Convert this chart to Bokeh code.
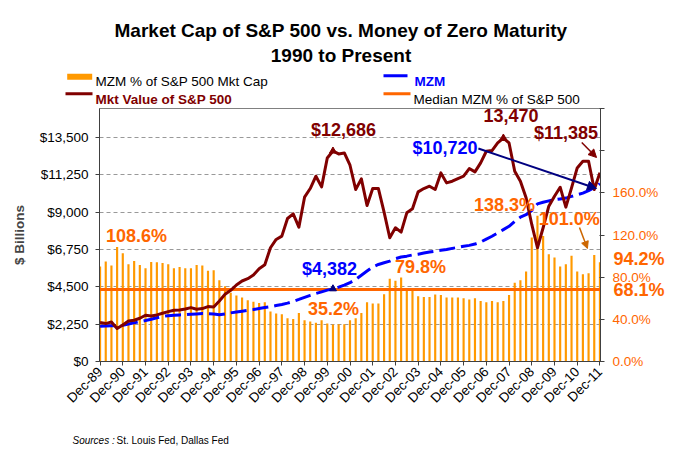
import math
from bokeh.plotting import figure
from bokeh.layouts import column
from bokeh.models import (Range1d, LinearAxis, FixedTicker, NumeralTickFormatter,
                          CustomJSTickFormatter, Label, Arrow, NormalHead)
from bokeh.core.properties import value
from bokeh.embed import file_html
from bokeh.resources import INLINE

FONT = "Liberation Sans"

# ---------------- data (quarterly, Dec-89 .. Dec-11) ----------------
year_labels = ["Dec-89", "Dec-90", "Dec-91", "Dec-92", "Dec-93", "Dec-94", "Dec-95",
               "Dec-96", "Dec-97", "Dec-98", "Dec-99", "Dec-00", "Dec-01", "Dec-02",
               "Dec-03", "Dec-04", "Dec-05", "Dec-06", "Dec-07", "Dec-08", "Dec-09",
               "Dec-10", "Dec-11"]

sp500_value = [2346, 2286, 2386, 1985, 2206, 2446, 2486, 2607, 2787, 2747,
               2807, 2907, 3008, 3088, 3108, 3168, 3248, 3148, 3188, 3308,
               3288, 3649, 4050, 4291, 4612, 4852, 4992, 5213, 5594, 5830,
               6857, 7358, 7559, 8621, 8902, 8100, 9905, 10426, 11168, 10526,
               12271, 12686, 12511, 12571, 11830, 10366, 11007, 9403, 10426, 10426,
               9002, 7459, 8060, 7799, 8962, 9203, 10226, 10426, 10566, 10366,
               11368, 10767, 10867, 11028, 11168, 11629, 11429, 11970, 12672, 12712,
               13173, 13470, 13173, 11469, 10867, 9865, 8261, 6857, 8060, 9363,
               9965, 10506, 9303, 10466, 11669, 12070, 12070, 10366, 11385]

mzm_value = [2130, 2140, 2150, 2160, 2190, 2260, 2330, 2400, 2470, 2550,
             2640, 2720, 2760, 2790, 2810, 2820, 2850, 2870, 2890, 2880,
             2860, 2820, 2860, 2930, 2980, 3030, 3080, 3130, 3190, 3250,
             3300, 3370, 3440, 3520, 3620, 3740, 3870, 3990, 4100, 4200,
             4300, 4382, 4480, 4600, 4750, 4950, 5200, 5450, 5700, 5850,
             5950, 6050, 6200, 6300, 6350, 6420, 6470, 6540, 6600, 6650,
             6700, 6750, 6820, 6880, 6950, 7000, 7080, 7200, 7380, 7550,
             7750, 7950, 8150, 8450, 8700, 8850, 9100, 9500, 9600, 9680,
             9750, 9800, 9850, 9950, 10050, 10150, 10300, 10480, 10720]

mzm_pct = [90.1, 94.8, 91.0, 108.6, 102.7, 92.3, 95.4, 91.6, 88.5, 94.5,
           94.2, 93.5, 92.3, 88.5, 89.7, 88.5, 88.5, 91.6, 91.0, 86.0,
           86.6, 77.1, 71.4, 65.1, 62.6, 60.7, 58.1, 56.6, 55.6, 56.2,
           47.4, 45.5, 44.9, 41.1, 40.4, 46.1, 39.2, 37.9, 36.7, 39.2,
           36.0, 35.2, 35.4, 35.4, 39.2, 41.1, 46.1, 56.2, 55.0, 55.0,
           63.8, 78.4, 76.5, 79.8, 69.5, 69.5, 61.9, 61.3, 61.3, 63.5,
           63.2, 60.7, 60.7, 60.7, 60.0, 58.8, 60.0, 57.5, 56.2, 57.5,
           56.2, 57.5, 63.2, 74.6, 77.1, 85.3, 117.6, 138.3, 119.1, 101.8,
           98.6, 90.1, 92.3, 100.2, 85.3, 82.8, 83.7, 101.0, 94.2]

median_pct = 68.1

idx = list(range(len(sp500_value)))
year_ticks = [4 * k for k in range(len(year_labels))]

DARKRED = "#800000"
BLUE = "#0000FF"
ORANGE_TXT = "#FF6600"
BAR = "#FF9900"
AXIS = "#404040"

W = 681
HDR_H = 106
MAIN_H = 318
FTR_H = 43


def no_align(f):
    if "frame_align" in f.properties():
        f.frame_align = False


# ---------------- header (title + legend) ----------------
hdr = figure(width=W, height=HDR_H, x_range=Range1d(0, W), y_range=Range1d(HDR_H, 0),
             output_backend="svg", toolbar_location=None, min_border=0,
             x_axis_location=None, y_axis_location=None)
hdr.grid.visible = False
hdr.outline_line_color = None
no_align(hdr)

hdr.text(x=[340.5, 340.5], y=[30, 55],
         text=["Market Cap of S&P 500 vs. Money of Zero Maturity", "1990 to Present"],
         text_font=value(FONT), text_font_style="bold", text_font_size="19px",
         text_align="center", text_baseline="alphabetic", text_color="black")

# legend swatches
hdr.quad(left=[66.7], right=[91.7], top=[73.3], bottom=[79.3], fill_color=BAR, line_color=None)
hdr.segment(x0=[65], y0=[93.3], x1=[92], y1=[93.3], line_color=DARKRED, line_width=3)
hdr.segment(x0=[383], y0=[75.3], x1=[407], y1=[75.3], line_color=BLUE, line_width=3)
hdr.segment(x0=[383], y0=[93.3], x1=[410], y1=[93.3], line_color=ORANGE_TXT, line_width=3)

hdr.text(x=[95], y=[80.5], text=["MZM % of S&P 500 Mkt Cap"], text_font=value(FONT),
         text_font_size="13.5px", text_color="black", text_baseline="alphabetic")
hdr.text(x=[95], y=[99], text=["Mkt Value of S&P 500"], text_font=value(FONT),
         text_font_style="bold", text_font_size="13.5px", text_color=DARKRED,
         text_baseline="alphabetic")
hdr.text(x=[414], y=[80.5], text=["MZM"], text_font=value(FONT), text_font_style="bold",
         text_font_size="13.5px", text_color=BLUE, text_baseline="alphabetic")
hdr.text(x=[413], y=[98.7], text=["Median MZM % of S&P 500"], text_font=value(FONT),
         text_font_size="13.5px", text_color="black", text_baseline="alphabetic")

# ---------------- main chart ----------------
p = figure(width=W, height=MAIN_H, x_range=Range1d(-0.1, 88.1), y_range=Range1d(0, 15250),
           output_backend="svg", toolbar_location=None,
           min_border_left=99, min_border_right=81, min_border_top=2, min_border_bottom=63)
no_align(p)
p.extra_y_ranges = {"pct": Range1d(0, 240)}
p.background_fill_color = "white"
p.border_fill_color = "white"
p.outline_line_color = "#808080"

# left axis
yax = p.yaxis[0]
yax.ticker = FixedTicker(ticks=[0, 2250, 4500, 6750, 9000, 11250, 13500])
yax.formatter = NumeralTickFormatter(format="$0,0")
yax.axis_label = "$ Billions"
yax.axis_label_text_font = FONT
yax.axis_label_text_font_style = "bold"
yax.axis_label_text_font_size = "13.5px"
yax.axis_label_standoff = 10
yax.major_label_text_font = FONT
yax.major_label_text_font_size = "13.5px"
yax.major_label_text_color = "black"
yax.major_tick_in = 0
yax.major_tick_out = 4
yax.minor_tick_in = 0
yax.minor_tick_out = 0
yax.major_label_standoff = 7
yax.axis_line_color = AXIS
yax.major_tick_line_color = AXIS

# right axis (percent)
rax = LinearAxis(y_range_name="pct",
                 ticker=FixedTicker(ticks=[0, 40, 80, 120, 160, 200, 240]),
                 formatter=CustomJSTickFormatter(
                     code="return tick <= 160 ? tick.toFixed(1) + '%' : '';"))
rax.major_label_text_font = FONT
rax.major_label_text_font_size = "13.5px"
rax.major_label_text_color = ORANGE_TXT
rax.major_tick_in = 1
rax.major_tick_out = 4
rax.minor_tick_in = 0
rax.minor_tick_out = 0
rax.major_label_standoff = 8
rax.axis_line_color = AXIS
rax.major_tick_line_color = AXIS
p.add_layout(rax, "right")

# call-out labels for the latest and the median percentage, beside the right axis
last = len(idx) - 1
callout_ticks = [median_pct, mzm_pct[last] + 3.5]
cax = LinearAxis(y_range_name="pct", ticker=FixedTicker(ticks=callout_ticks),
                 formatter=CustomJSTickFormatter(
                     args=dict(hi="%.1f%%" % mzm_pct[last], lo="%.1f%%" % median_pct),
                     code="return tick > 80 ? hi : lo;"))
cax.axis_line_color = None
cax.major_tick_line_color = None
cax.minor_tick_line_color = None
cax.major_tick_in = 0
cax.major_tick_out = 0
cax.minor_tick_in = 0
cax.minor_tick_out = 0
cax.major_label_standoff = -48
cax.major_label_text_font = FONT
cax.major_label_text_font_style = "bold"
cax.major_label_text_font_size = "18px"
cax.major_label_text_color = ORANGE_TXT
p.add_layout(cax, "right")

# bottom axis
xax = p.xaxis[0]
xax.ticker = FixedTicker(ticks=year_ticks)
xax.major_label_overrides = dict(zip(year_ticks, year_labels))
xax.major_label_orientation = math.pi / 4
xax.major_label_text_font = FONT
xax.major_label_text_font_size = "13.5px"
xax.major_label_text_color = "black"
xax.major_tick_in = 0
xax.major_tick_out = 4
xax.minor_tick_in = 0
xax.minor_tick_out = 0
xax.major_label_standoff = 4
xax.axis_line_color = AXIS
xax.major_tick_line_color = AXIS

p.xgrid.visible = False
p.ygrid.ticker = FixedTicker(ticks=[2250, 4500, 6750, 9000, 11250, 13500])
p.ygrid.grid_line_color = "#999999"
p.ygrid.grid_line_dash = "4 3"
p.ygrid.grid_line_width = 1

# marks
p.vbar(x=idx, top=mzm_pct, width=0.38, y_range_name="pct", fill_color=BAR, line_color=None)
p.hspan(y=[median_pct], y_range_name="pct", line_color=ORANGE_TXT, line_width=3)
p.line(idx, mzm_value, line_color=BLUE, line_width=3, line_dash="16 6")
p.line(idx, sp500_value, line_color=DARKRED, line_width=3, line_join="round")

peak1 = sp500_value.index(max(sp500_value[:60]))
peak2 = sp500_value.index(max(sp500_value))
p.scatter(x=[peak1, peak2], y=[sp500_value[peak1], sp500_value[peak2]], marker="triangle",
          size=7, fill_color=DARKRED, line_color=DARKRED)
p.scatter(x=[peak1], y=[mzm_value[peak1]], marker="triangle", size=7,
          fill_color="#000080", line_color="#000080")


def lab(text, x, y, dx, dy, color, rng="default"):
    p.add_layout(Label(x=x, y=y, x_offset=dx, y_offset=dy, text=text, y_range_name=rng,
                       text_font=FONT, text_font_style="bold", text_font_size="18px",
                       text_color=color, text_align="center", text_baseline="middle"))


lab("$%s" % format(sp500_value[peak1], ","), peak1, sp500_value[peak1], 10.5, 21.5, DARKRED)
lab(format(sp500_value[peak2], ","), peak2, sp500_value[peak2], 7.6, 22.5, DARKRED)
lab("$%s" % format(sp500_value[last], ","), last, sp500_value[last], -34, 40, DARKRED)
lab("$%s" % format(mzm_value[last], ","), last, mzm_value[last], -155, 36, BLUE)
lab("$%s" % format(mzm_value[peak1], ","), peak1, mzm_value[peak1], -3.5, 20, BLUE)

imax1 = mzm_pct.index(max(mzm_pct[:20]))
imin = mzm_pct.index(min(mzm_pct))
imid = mzm_pct.index(max(mzm_pct[45:60]))
imax2 = mzm_pct.index(max(mzm_pct))
lab("%.1f%%" % mzm_pct[imax1], imax1, mzm_pct[imax1], 19.4, 11.5, ORANGE_TXT, "pct")
lab("%.1f%%" % mzm_pct[imin], imin, mzm_pct[imin], 0.5, 15, ORANGE_TXT, "pct")
lab("%.1f%%" % mzm_pct[imid], imid, mzm_pct[imid], 19.4, 10, ORANGE_TXT, "pct")
lab("%.1f%%" % mzm_pct[imax2], imax2, mzm_pct[imax2], -33, 11, ORANGE_TXT, "pct")
lab("%.1f%%" % mzm_pct[last - 1], last - 1, mzm_pct[last - 1], -25, 36.5, ORANGE_TXT, "pct")

# arrows
p.add_layout(Arrow(end=NormalHead(size=9, fill_color="#000080", line_color="#000080"),
                   x_start=last - 21.4, y_start=12840, x_end=last - 0.6, y_end=10428,
                   line_color="#000080", line_width=2))
p.add_layout(Arrow(end=NormalHead(size=8, fill_color=DARKRED, line_color=DARKRED),
                   x_start=last - 3.2, y_start=13201, x_end=last - 0.6, y_end=12297,
                   line_color=DARKRED, line_width=1.5))
p.add_layout(Arrow(end=NormalHead(size=7, fill_color="#CC6600", line_color="#CC6600"),
                   x_start=last - 3.6, y_start=127.1, x_end=last - 2.2, y_end=107.2,
                   y_range_name="pct", line_color="#CC6600", line_width=1.5))

# ---------------- footer ----------------
ftr = figure(width=W, height=FTR_H, x_range=Range1d(0, W), y_range=Range1d(FTR_H, 0),
             output_backend="svg", toolbar_location=None, min_border=0,
             x_axis_location=None, y_axis_location=None)
ftr.grid.visible = False
ftr.outline_line_color = None
no_align(ftr)
ftr.text(x=[72], y=[16], text=["Sources :"], text_font=value(FONT), text_font_style="italic",
         text_font_size="10px", text_color="black", text_baseline="alphabetic")
ftr.text(x=[116], y=[16], text=["St. Louis Fed, Dallas Fed"], text_font=value(FONT),
         text_font_size="10px", text_color="black", text_baseline="alphabetic")

layout = column(hdr, p, ftr, spacing=0)
open("out.html", "w").write(file_html(layout, INLINE))
